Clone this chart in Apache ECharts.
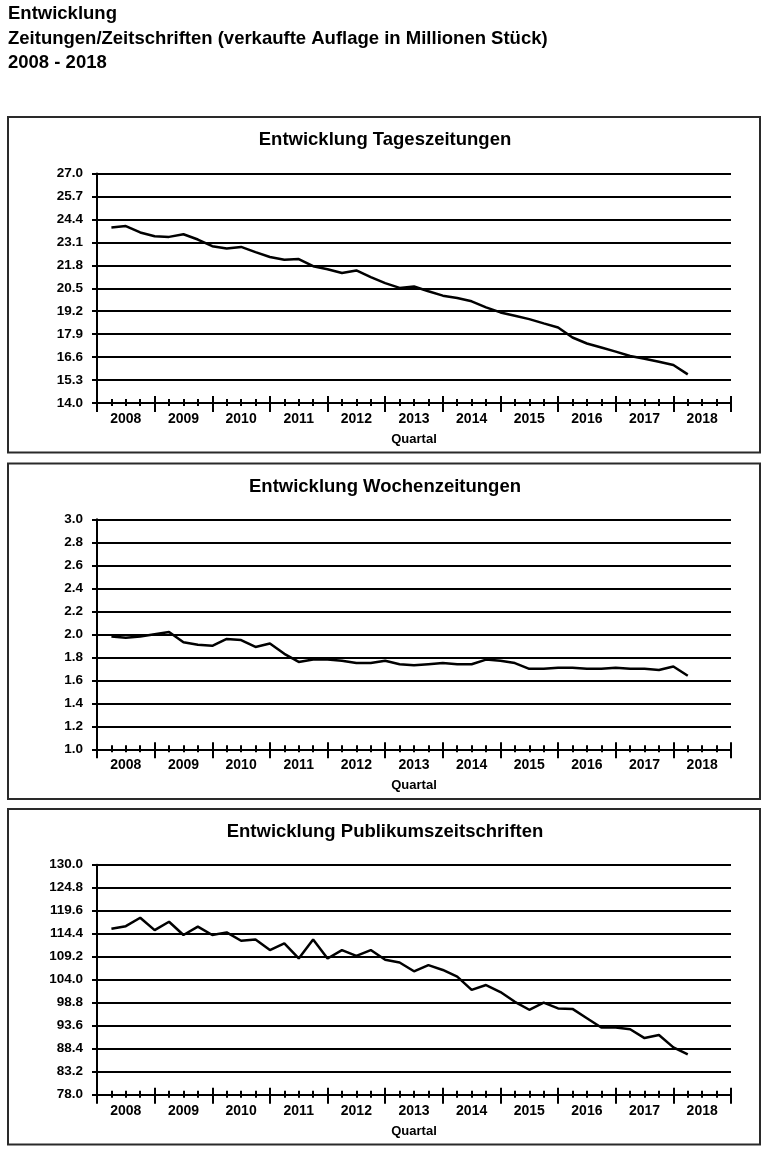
<!DOCTYPE html>
<html><head><meta charset="utf-8">
<script src="https://cdn.jsdelivr.net/npm/echarts@6/dist/echarts.min.js"></script>
<style>html,body{margin:0;padding:0;background:#fff}#c{width:770px;height:1162px}</style>
</head><body><div id="c"></div>
<script>
// ---- data ----
const headerLines = ['Entwicklung', 'Zeitungen/Zeitschriften (verkaufte Auflage in Millionen Stück)', '2008 - 2018'];
const years = ['2008','2009','2010','2011','2012','2013','2014','2015','2016','2017','2018'];
const quarters = [
 '2008 Q1','2008 Q2','2008 Q3','2008 Q4','2009 Q1','2009 Q2','2009 Q3','2009 Q4',
 '2010 Q1','2010 Q2','2010 Q3','2010 Q4','2011 Q1','2011 Q2','2011 Q3','2011 Q4',
 '2012 Q1','2012 Q2','2012 Q3','2012 Q4','2013 Q1','2013 Q2','2013 Q3','2013 Q4',
 '2014 Q1','2014 Q2','2014 Q3','2014 Q4','2015 Q1','2015 Q2','2015 Q3','2015 Q4',
 '2016 Q1','2016 Q2','2016 Q3','2016 Q4','2017 Q1','2017 Q2','2017 Q3','2017 Q4',
 '2018 Q1'];
const tageszeitungen = [23.94,24.02,23.66,23.45,23.41,23.56,23.26,22.88,22.75,22.84,22.55,22.27,22.12,22.15,21.75,21.58,21.36,21.51,21.13,20.79,20.52,20.60,20.33,20.08,19.95,19.76,19.42,19.13,18.94,18.75,18.51,18.28,17.71,17.37,17.14,16.91,16.66,16.51,16.34,16.15,15.62];
const wochenzeitungen = [1.98,1.97,1.98,2.00,2.02,1.93,1.91,1.90,1.96,1.95,1.89,1.92,1.83,1.76,1.78,1.78,1.77,1.75,1.75,1.77,1.74,1.73,1.74,1.75,1.74,1.74,1.78,1.77,1.75,1.70,1.70,1.71,1.71,1.70,1.70,1.71,1.70,1.70,1.69,1.72,1.64];
const publikumszeitschriften = [115.5,116.1,118.0,115.2,117.1,114.1,116.0,114.1,114.7,112.8,113.1,110.7,112.2,108.8,113.1,108.8,110.7,109.4,110.7,108.5,107.9,105.9,107.3,106.2,104.7,101.7,102.8,101.2,99.0,97.2,98.8,97.5,97.4,95.3,93.2,93.2,92.8,90.8,91.5,88.7,87.1];
const tagesTicks = {min:14.0, max:27.0, interval:1.3};
const wochenTicks = {min:1.0, max:3.0, interval:0.2};
const publikumTicks = {min:78.0, max:130.0, interval:5.2};
const titles = ['Entwicklung Tageszeitungen','Entwicklung Wochenzeitungen','Entwicklung Publikumszeitschriften'];
const xAxisName = 'Quartal';

// ---- layout ----
const FONT = '"Liberation Sans", Arial, sans-serif';
const panels = [
  {title: titles[0], data: tageszeitungen, ticks: tagesTicks, box: 117, top: 173.5, bottom: 403},
  {title: titles[1], data: wochenzeitungen, ticks: wochenTicks, box: 463.5, top: 519.3, bottom: 749.3},
  {title: titles[2], data: publikumszeitschriften, ticks: publikumTicks, box: 809, top: 864.7, bottom: 1094.7}
];
const nQ = years.length * 4;
const black = '#000';

const grid = [], xAxis = [], yAxis = [], series = [], graphic = [];
headerLines.forEach((t, i) => {
  graphic.push({type:'text', x: 8, y: [14, 39, 63][i], style:{text: t, fill: black, font: 'bold 18.5px ' + FONT, textAlign:'left', align:'left', textVerticalAlign:'middle', verticalAlign:'middle'}});
});
panels.forEach((p, i) => {
  graphic.push({type:'rect', shape:{x: 8, y: p.box, width: 752, height: 335.5}, style:{fill:'none', stroke:'#2a2a2a', lineWidth: 2}});
  graphic.push({type:'text', x: 385, y: p.box + 23, style:{text: p.title, fill: black, font: 'bold 18.5px ' + FONT, textAlign:'center', align:'center', textVerticalAlign:'middle', verticalAlign:'middle'}});
  grid.push({left: 97, right: 39, top: p.top, height: p.bottom - p.top, containLabel: false, outerBoundsMode: 'none'});
  const base = {type:'value', gridIndex: i, position:'bottom', min: 0, max: nQ, interval: 4,
    axisLabel:{show:false}, splitLine:{show:false}, minorSplitLine:{show:false}};
  xAxis.push(Object.assign({}, base, {
    axisLine:{show:true, onZero:false, lineStyle:{color: black, width: 2}},
    axisTick:{show:true, length: 9, lineStyle:{color: black, width: 2}},
    minorTick:{show:true, splitNumber: 4, length: 3, lineStyle:{color: black, width: 2}}
  }));
  xAxis.push(Object.assign({}, base, {
    axisLine:{show:false, onZero:false},
    axisTick:{show:true, inside:true, length: 7, lineStyle:{color: black, width: 2}},
    minorTick:{show:true, splitNumber: 4, length: 4, lineStyle:{color: black, width: 2}}
  }));
  xAxis.push({type:'category', gridIndex: i, position:'bottom', data: years, boundaryGap: true,
    axisLine:{show:false, onZero:false}, axisTick:{show:false}, splitLine:{show:false},
    axisLabel:{show:true, margin: 9, fontSize: 14, fontWeight:'bold', color: black, fontFamily: FONT, interval: 0},
    name: xAxisName, nameLocation:'middle', nameGap: 30,
    nameTextStyle:{fontSize: 13, fontWeight:'bold', color: black, fontFamily: FONT}});
  yAxis.push({type:'value', gridIndex: i, min: p.ticks.min, max: p.ticks.max, interval: p.ticks.interval,
    axisLine:{show:true, onZero:false, lineStyle:{color: black, width: 2}},
    axisTick:{show:true, length: 5, lineStyle:{color: black, width: 2}},
    axisLabel:{formatter: v => Number(v).toFixed(1), margin: 14, fontSize: 13.5, fontWeight:'bold', color: black, fontFamily: FONT},
    splitLine:{show:true, lineStyle:{color: black, width: 2}}});
  series.push({type:'line', name: p.title, xAxisIndex: 3*i, yAxisIndex: i,
    data: p.data.map((v, k) => [k + 1, v]),
    symbol:'none', lineStyle:{color: black, width: 2.5}, z: 5, animation: false});
});

const chart = echarts.init(document.getElementById('c'), null, {renderer:'canvas', width: 770, height: 1162});
chart.setOption({animation: false, backgroundColor:'#fff', textStyle:{fontFamily: FONT}, grid, xAxis, yAxis, series, graphic});
</script>
</body></html>
